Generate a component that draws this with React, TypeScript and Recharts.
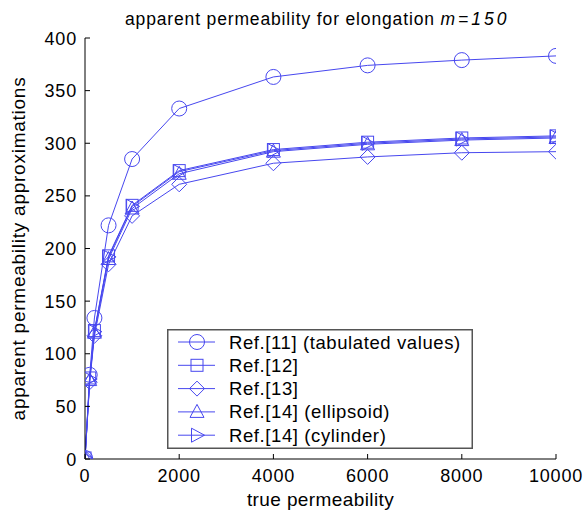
import React from 'react';
import { LineChart, Line, XAxis, YAxis, Legend, Label } from 'recharts';

// ---- data ----
const truePermeability = [1, 100, 200, 500, 1000, 2000, 4000, 6000, 8000, 10000];
const ref11Tabulated = [1, 80, 134, 222, 285, 333, 363, 374, 379, 383];
const ref12 = [1, 77, 122, 193, 241, 274, 294, 301, 305, 307];
const ref13 = [1, 73, 117, 185, 231, 261, 281, 287, 291, 292];
const ref14Ellipsoid = [1, 75, 120, 190, 238, 271, 292, 299, 303, 305];
const ref14Cylinder = [1, 76, 121, 192, 240, 273, 293, 300, 304, 306];

const seriesNames = [
  'Ref.[11] (tabulated values)',
  'Ref.[12]',
  'Ref.[13]',
  'Ref.[14] (ellipsoid)',
  'Ref.[14] (cylinder)',
];
const seriesKeys = ['ref11', 'ref12', 'ref13', 'ref14e', 'ref14c'];
const seriesValues = [ref11Tabulated, ref12, ref13, ref14Ellipsoid, ref14Cylinder];

const xTicks = [0, 2000, 4000, 6000, 8000, 10000];
const yTicks = [0, 50, 100, 150, 200, 250, 300, 350, 400];

const titleMain = 'apparent permeability for elongation ';
const titleParam = 'm=150';
const xAxisTitle = 'true permeability';
const yAxisTitle = 'apparent permeability approximations';

// ---- styling ----
const BLUE = '#4747ef';
const FONT = '"Liberation Sans", Arial, Helvetica, sans-serif';
const PLOT_LEFT = 85;
const PLOT_BOTTOM = 459;

type MarkerKind = 'circle' | 'square' | 'diamond' | 'triangle' | 'right';
const markerKinds: MarkerKind[] = ['circle', 'square', 'diamond', 'triangle', 'right'];

const rows = truePermeability.map((x, i) => {
  const row: Record<string, number> = { x };
  seriesKeys.forEach((k, s) => {
    row[k] = seriesValues[s][i];
  });
  return row;
});

function Marker({ kind, cx, cy }: { kind: MarkerKind; cx: number; cy: number }) {
  const common = { fill: 'none', stroke: BLUE, strokeWidth: 1 };
  switch (kind) {
    case 'circle':
      return <circle cx={cx} cy={cy} r={7.5} {...common} />;
    case 'square':
      return <rect x={cx - 6} y={cy - 6} width={12} height={12} {...common} />;
    case 'diamond':
      return (
        <polygon
          points={`${cx},${cy - 7.5} ${cx + 7.5},${cy} ${cx},${cy + 7.5} ${cx - 7.5},${cy}`}
          {...common}
        />
      );
    case 'triangle':
      return (
        <polygon
          points={`${cx},${cy - 7.5} ${cx + 7},${cy + 5.5} ${cx - 7},${cy + 5.5}`}
          {...common}
        />
      );
    case 'right':
    default:
      return (
        <polygon
          points={`${cx + 7.5},${cy} ${cx - 5.5},${cy - 7} ${cx - 5.5},${cy + 7}`}
          {...common}
        />
      );
  }
}

function XTick(props: any) {
  const { x, payload } = props;
  return (
    <g>
      <line x1={x} x2={x} y1={PLOT_BOTTOM} y2={PLOT_BOTTOM - 5} stroke="#000" strokeWidth={1} />
      <text
        x={x}
        y={PLOT_BOTTOM + 23}
        textAnchor="middle"
        fontFamily={FONT}
        fontSize={18}
        letterSpacing={0.8}
        fill="#000"
      >
        {payload.value}
      </text>
    </g>
  );
}

function YTick(props: any) {
  const { y, payload } = props;
  return (
    <g>
      <line x1={PLOT_LEFT} x2={PLOT_LEFT + 5} y1={y} y2={y} stroke="#000" strokeWidth={1} />
      <text
        x={PLOT_LEFT - 8}
        y={y + 6.5}
        textAnchor="end"
        fontFamily={FONT}
        fontSize={18}
        letterSpacing={0.8}
        fill="#000"
      >
        {payload.value}
      </text>
    </g>
  );
}

function LegendBox() {
  const w = 306;
  const h = 120;
  return (
    <svg width={w} height={h} style={{ display: 'block' }}>
      <rect x={0.75} y={0.75} width={w - 1.5} height={h - 1.5} fill="#fff" stroke="#555" strokeWidth={1.5} />
      {seriesNames.map((name, i) => {
        const cy = 13 + i * 23.3;
        return (
          <g key={name}>
            <line x1={11} x2={48} y1={cy} y2={cy} stroke={BLUE} strokeWidth={1} />
            <Marker kind={markerKinds[i]} cx={30} cy={cy} />
            <text
              x={62}
              y={cy + 6.5}
              fontFamily={FONT}
              fontSize={18.5}
              letterSpacing={0.6}
              fill="#000"
            >
              {name}
            </text>
          </g>
        );
      })}
    </svg>
  );
}

export default function App() {
  return (
    <div style={{ position: 'absolute', left: 0, top: 0, width: 585, height: 515, background: '#fff' }}>
      <LineChart
        width={585}
        height={515}
        data={rows}
        margin={{ top: 38, right: 29, bottom: 0, left: 0 }}
      >
        <XAxis
          type="number"
          dataKey="x"
          domain={[0, 10000]}
          ticks={xTicks}
          allowDataOverflow
          height={56}
          tickSize={0}
          tickMargin={0}
          tickLine={false}
          tick={<XTick />}
          axisLine={{ stroke: '#000', strokeWidth: 1 }}
        >
          <Label
            value={xAxisTitle}
            position="insideBottom"
            offset={9}
            style={{ fontFamily: FONT, fontSize: 19, letterSpacing: 0.4, fill: '#000' }}
          />
        </XAxis>
        <YAxis
          type="number"
          domain={[0, 400]}
          ticks={yTicks}
          allowDataOverflow
          width={85}
          tickSize={0}
          tickMargin={0}
          tickLine={false}
          tick={<YTick />}
          axisLine={{ stroke: '#000', strokeWidth: 1 }}
        >
          <Label
            value={yAxisTitle}
            angle={-90}
            position="insideLeft"
            offset={18}
            style={{ fontFamily: FONT, fontSize: 19, letterSpacing: 0.75, fill: '#000', textAnchor: 'middle' }}
          />
        </YAxis>
        <Legend
          layout="vertical"
          align="center"
          verticalAlign="middle"
          content={() => <LegendBox />}
          wrapperStyle={{ position: 'absolute', left: 167, top: 329, width: 306, height: 120 }}
        />
        {seriesKeys.map((k, i) => (
          <Line
            key={k}
            dataKey={k}
            name={seriesNames[i]}
            type="linear"
            stroke={BLUE}
            strokeWidth={1}
            isAnimationActive={false}
            activeDot={false}
            dot={(p: any) => (
              <Marker key={`${k}-${p.index}`} kind={markerKinds[i]} cx={p.cx} cy={p.cy} />
            )}
          />
        ))}
      </LineChart>
      <svg
        width={585}
        height={40}
        style={{ position: 'absolute', left: 0, top: 0, pointerEvents: 'none' }}
      >
        <text x={125} y={25} fontFamily={FONT} fontSize={17.5} letterSpacing={0.85} fill="#000">
          {titleMain}
          <tspan fontStyle="italic" letterSpacing={3}>{titleParam}</tspan>
        </text>
      </svg>
    </div>
  );
}
